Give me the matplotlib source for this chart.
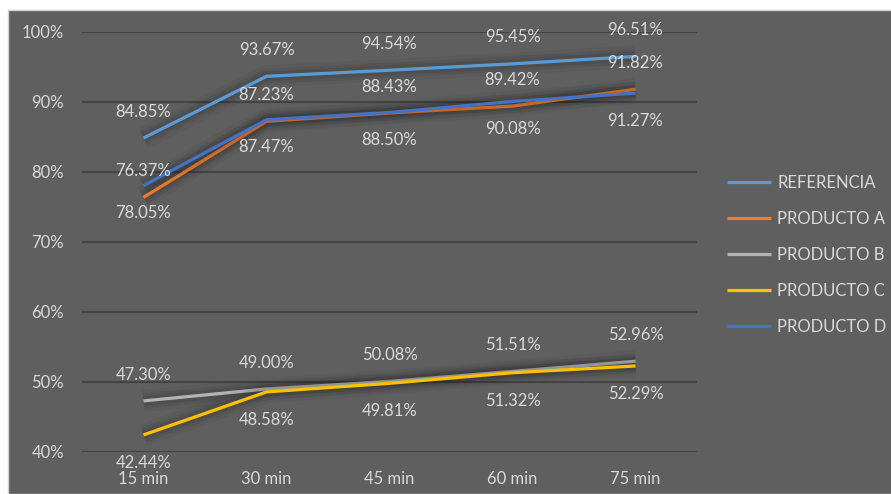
import matplotlib
matplotlib.use('Agg')
import matplotlib.pyplot as plt
import matplotlib.patheffects as pe
from matplotlib.patches import Rectangle
from matplotlib.ticker import FuncFormatter

plt.rcParams['font.family'] = ['Lato', 'DejaVu Sans']

# data (percent)
categories = ['15 min', '30 min', '45 min', '60 min', '75 min']
referencia = [84.85, 93.67, 94.54, 95.45, 96.51]
producto_a = [76.37, 87.23, 88.43, 89.42, 91.82]
producto_b = [47.30, 49.00, 50.08, 51.51, 52.96]
producto_c = [42.44, 48.58, 49.81, 51.32, 52.29]
producto_d = [78.05, 87.47, 88.50, 90.08, 91.27]

series = [
    ('REFERENCIA', referencia, '#5B9BD5', 'above'),
    ('PRODUCTO A', producto_a, '#ED7D31', 'above'),
    ('PRODUCTO B', producto_b, '#B4B4B4', 'above'),
    ('PRODUCTO C', producto_c, '#FFC000', 'below'),
    ('PRODUCTO D', producto_d, '#4472C4', 'below'),
]

BG = '#5f5f5f'
TXT = '#d9d9d9'
GRID = '#444444'

fig = plt.figure(figsize=(8.91, 4.94), dpi=100, facecolor='white')
W, H = 891, 494
fig.add_artist(Rectangle((8 / W, 0), 1, (H - 10) / H, transform=fig.transFigure,
                         facecolor=BG, edgecolor='#d0d0d0', lw=1.0, zorder=-10))

ax = fig.add_axes([82 / W, 42 / H, (697 - 82) / W, 420 / H])
ax.set_facecolor('none')
for s in ax.spines.values():
    s.set_visible(False)

x = list(range(len(categories)))
glow = [pe.Stroke(linewidth=16, foreground='black', alpha=0.04),
        pe.Stroke(linewidth=11, foreground='black', alpha=0.06),
        pe.Stroke(linewidth=7, foreground='black', alpha=0.08),
        pe.Normal()]

for name, vals, color, pos in series:
    ax.plot(x, vals, color=color, lw=2.3, label=name, solid_capstyle='butt',
            path_effects=glow, zorder=3)
    dy = 19 if pos == 'above' else -20
    for xi, v in zip(x, vals):
        ax.annotate(f'{v:.2f}%', (xi, v), xytext=(0, dy), textcoords='offset points',
                    ha='center', va='center', color=TXT, fontsize=12, zorder=4)

ax.set_xlim(-0.5, len(categories) - 0.5)
ax.set_ylim(40, 100)
ax.set_yticks(range(40, 101, 10))
ax.yaxis.set_major_formatter(FuncFormatter(lambda v, p: f'{v:.0f}%'))
ax.set_xticks(x)
ax.set_xticklabels(categories)
ax.tick_params(length=0, colors=TXT, labelsize=12)
ax.tick_params(axis='y', pad=13)
ax.tick_params(axis='x', pad=14)
ax.grid(axis='y', color=GRID, lw=1.5)
ax.set_axisbelow(True)

leg = fig.legend(loc='center left', bbox_to_anchor=(719 / W, (H - 255) / H),
                 frameon=False, fontsize=12, labelcolor=TXT, handlelength=2.6,
                 handletextpad=0.4, labelspacing=1.2, borderpad=0)
for h in leg.get_lines():
    h.set_path_effects([])
    h.set_linewidth(2.3)

fig.savefig('out.png', dpi=100, facecolor=fig.get_facecolor())
